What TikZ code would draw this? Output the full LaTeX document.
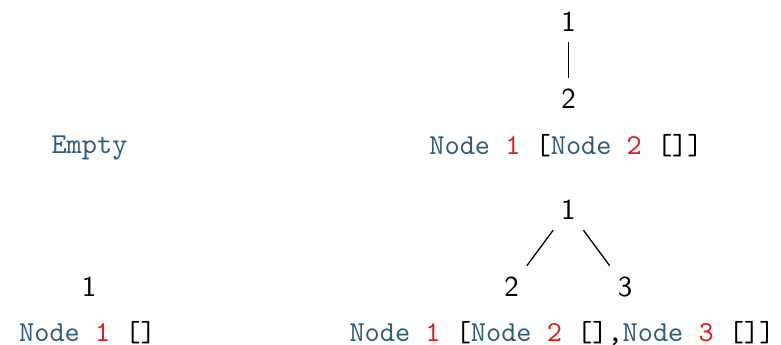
\documentclass[tikz,border=0pt]{standalone}
\usepackage{fontspec}
\definecolor{conblue}{RGB}{47,92,125}
\definecolor{numred}{RGB}{222,28,28}
\newcommand{\con}[1]{\textcolor{conblue}{#1}}
\newcommand{\num}[1]{\textcolor{numred}{#1}}
\tikzset{
  treenode/.style={font=\sffamily, inner sep=3.5pt, anchor=base},
  codeline/.style={font=\ttfamily, inner sep=0pt, anchor=base},
  treeedge/.style={line width=0.45pt, black}
}
\begin{document}
\begin{tikzpicture}[x=0.346pt, y=-0.346pt]
  \useasboundingbox (0,0) rectangle (781,344);

  % empty tree
  \node[codeline] (emptycode) at (89.5,153.5) {\con{Empty}};

  % single node
  \node[treenode] (s1) at (89,296) {1};
  \node[codeline] (singlecode) at (87.5,341.5) {\con{Node} \num{1} []};

  % chain 1 - 2
  \node[treenode] (a1) at (568.5,31.7) {1};
  \node[treenode] (a2) at (568.5,108.3) {2};
  \draw[treeedge] (a1) -- (a2);
  \node[codeline] (chaincode) at (566,154) {\con{Node} \num{1} [\con{Node} \num{2} []]};

  % root with two children
  \node[treenode] (b1) at (568.3,219.5) {1};
  \node[treenode] (b2) at (511.7,296) {2};
  \node[treenode] (b3) at (625,296) {3};
  \draw[treeedge] (b1) -- (b2);
  \draw[treeedge] (b1) -- (b3);
  \node[codeline] (forkcode) at (562,341) {\con{Node} \num{1} [\con{Node} \num{2} [],\con{Node} \num{3} []]};
\end{tikzpicture}
\end{document}
